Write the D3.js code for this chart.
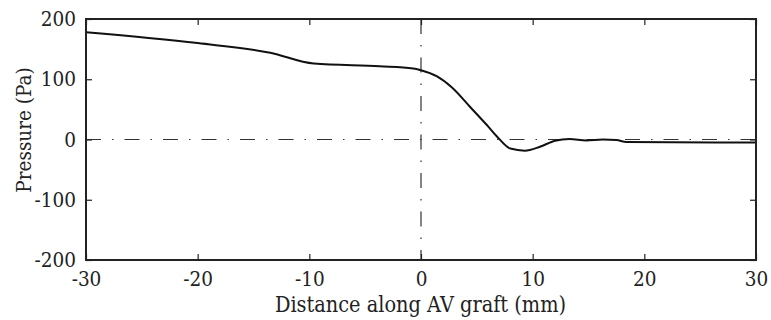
<!DOCTYPE html>
<html>
<head>
<meta charset="utf-8">
<script src="https://cdn.jsdelivr.net/npm/d3@7"></script>
<style>
  body { margin: 0; background: #fff; }
</style>
</head>
<body>
<svg width="771" height="320"></svg>
<script>
// distance along graft (mm) and pressure (Pa)
var distance = [-30, -20, -13.5, -9.6, -3.7, -0.7, 0, 1.4, 2.75, 4.4, 5.9, 6.8, 8.0, 9.3, 10.65, 12, 13.3, 14.8, 16.3, 17.5, 18.4, 30];
var pressure = [178, 160, 144, 126, 121.5, 118, 115, 105, 86.6, 54, 24, 5, -15, -18.5, -12, -2, 1, -1.5, 0, -1, -4, -5];
var xTicks = [-30, -20, -10, 0, 10, 20, 30];
var yTicks = [-200, -100, 0, 100, 200];

var serif = "DejaVu Serif Condensed, DejaVu Serif, serif";

var svg = d3.select('svg');
var margin = {top: 19, right: 15, bottom: 60, left: 86},
    width = +svg.attr("width") - margin.left - margin.right,
    height = +svg.attr("height") - margin.top - margin.bottom;

var g = svg.append("g")
    .attr("transform", "translate(" + margin.left + "," + margin.top + ")");

var x = d3.scaleLinear().domain([-30, 30]).range([0, width]);
var y = d3.scaleLinear().domain([-200, 200]).range([height, 0]);

var data = distance.map(function(d, i) { return {x: d, y: pressure[i]}; });

// dash-dot reference lines through the origin
g.append("line")
    .attr("x1", 0).attr("x2", width)
    .attr("y1", y(0)).attr("y2", y(0))
    .attr("stroke", "#333").attr("stroke-width", 1.2)
    .attr("stroke-dasharray", "15,11,1.5,11");
g.append("line")
    .attr("x1", x(0)).attr("x2", x(0))
    .attr("y1", 0).attr("y2", height)
    .attr("stroke", "#333").attr("stroke-width", 1.2)
    .attr("stroke-dasharray", "15,11,1.5,11");

var line = d3.line()
    .x(function(d) { return x(d.x); })
    .y(function(d) { return y(d.y); })
    .curve(d3.curveMonotoneX);

g.append("path")
    .datum(data)
    .attr("fill", "none")
    .attr("stroke", "#111")
    .attr("stroke-width", 2)
    .attr("d", line);

// axes, ticks pointing inward on all four sides
function styleAxis(sel) {
    sel.attr("font-family", serif).attr("font-size", 20.5);
    sel.select(".domain").remove();
    sel.selectAll(".tick line").attr("stroke", "#222").attr("stroke-width", 1.2);
    sel.selectAll(".tick text").attr("fill", "#222");
}

var fmt = function(d) { return String(d); };

g.append("g")
    .attr("transform", "translate(0," + height + ")")
    .call(d3.axisBottom(x).tickValues(xTicks).tickSize(-6).tickPadding(11).tickFormat(fmt))
    .call(styleAxis);
g.append("g")
    .call(d3.axisTop(x).tickValues(xTicks).tickSize(-6).tickFormat(""))
    .call(styleAxis);
g.append("g")
    .call(d3.axisLeft(y).tickValues(yTicks).tickSize(-6).tickPadding(10).tickFormat(fmt))
    .call(styleAxis);
g.append("g")
    .attr("transform", "translate(" + width + ",0)")
    .call(d3.axisRight(y).tickValues(yTicks).tickSize(-6).tickFormat(""))
    .call(styleAxis);

g.append("rect")
    .attr("width", width).attr("height", height)
    .attr("fill", "none").attr("stroke", "#222").attr("stroke-width", 2);

svg.append("text")
    .attr("x", margin.left + width / 2 - 0.5)
    .attr("y", 312)
    .attr("text-anchor", "middle")
    .attr("font-family", serif)
    .attr("font-size", 21.5)
    .attr("fill", "#222")
    .text("Distance along AV graft (mm)");

svg.append("text")
    .attr("transform", "translate(31," + 130 + ") rotate(-90)")
    .attr("text-anchor", "middle")
    .attr("font-family", serif)
    .attr("font-size", 20.5)
    .attr("fill", "#222")
    .text("Pressure (Pa)");
</script>
</body>
</html>
